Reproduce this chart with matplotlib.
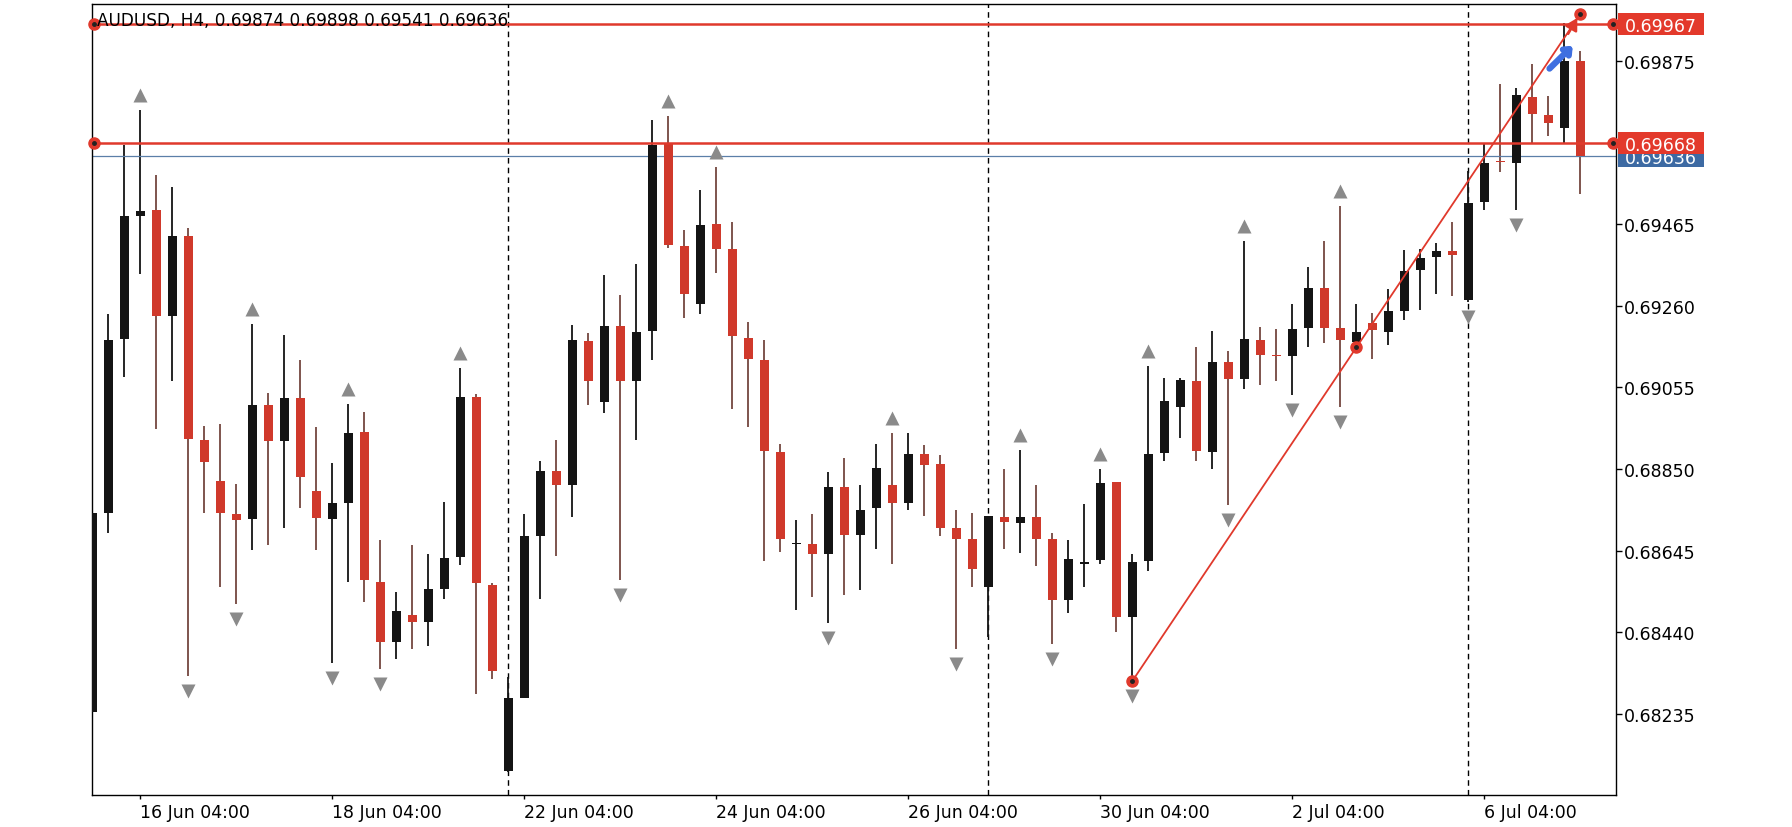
import matplotlib
matplotlib.use("Agg")
import matplotlib.pyplot as plt
from matplotlib.patches import Rectangle
from matplotlib.transforms import blended_transform_factory, offset_copy
import pandas as pd

# AUDUSD H4, 15 Jun 2020 16:00 onwards
title_text = "AUDUSD, H4, 0.69874 0.69898 0.69541 0.69636"

opens = [0.68241, 0.68739, 0.69177, 0.69486, 0.69500, 0.69234, 0.69435, 0.68922, 0.68819, 0.68736,
         0.68724, 0.69011, 0.68920, 0.69029, 0.68796, 0.68724, 0.68766, 0.68944, 0.68567, 0.68416,
         0.68484, 0.68465, 0.68550, 0.68630, 0.69030, 0.68559, 0.68093, 0.68275, 0.68683, 0.68846,
         0.68811, 0.69171, 0.69017, 0.69210, 0.69072, 0.69196, 0.69666, 0.69409, 0.69263, 0.69465,
         0.69402, 0.69180, 0.69124, 0.68894, 0.68662, 0.68663, 0.68636, 0.68805, 0.68685, 0.68751,
         0.68811, 0.68764, 0.68887, 0.68863, 0.68701, 0.68674, 0.68553, 0.68730, 0.68715, 0.68730,
         0.68674, 0.68521, 0.68612, 0.68622, 0.68817, 0.68478, 0.68618, 0.68890, 0.69006, 0.69072,
         0.68894, 0.69119, 0.69077, 0.69173, 0.69135, 0.69133, 0.69204, 0.69305, 0.69204, 0.69169,
         0.69217, 0.69195, 0.69246, 0.69349, 0.69383, 0.69396, 0.69274, 0.69520, 0.69623, 0.69618,
         0.69783, 0.69739, 0.69707, 0.69874]
highs = [0.68745, 0.69240, 0.69662, 0.69752, 0.69589, 0.69557, 0.69455, 0.68958, 0.68964, 0.68813,
         0.69214, 0.69042, 0.69186, 0.69124, 0.68955, 0.68864, 0.69012, 0.68993, 0.68671, 0.68541,
         0.68659, 0.68636, 0.68768, 0.69103, 0.69038, 0.68565, 0.68328, 0.68736, 0.68869, 0.68922,
         0.69212, 0.69192, 0.69337, 0.69287, 0.69364, 0.69727, 0.69735, 0.69450, 0.69551, 0.69607,
         0.69471, 0.69218, 0.69174, 0.68914, 0.68722, 0.68736, 0.68842, 0.68878, 0.68811, 0.68914,
         0.68941, 0.68941, 0.68910, 0.68884, 0.68748, 0.68740, 0.68733, 0.68851, 0.68899, 0.68811,
         0.68689, 0.68671, 0.68762, 0.68849, 0.68817, 0.68636, 0.69109, 0.69079, 0.69079, 0.69157,
         0.69196, 0.69145, 0.69423, 0.69206, 0.69202, 0.69263, 0.69358, 0.69423, 0.69511, 0.69264,
         0.69242, 0.69303, 0.69400, 0.69402, 0.69418, 0.69469, 0.69597, 0.69669, 0.69815, 0.69806,
         0.69866, 0.69787, 0.69969, 0.69898]
lows = [0.68236, 0.68689, 0.69082, 0.69340, 0.68950, 0.69070, 0.68330, 0.68740, 0.68555, 0.68511,
        0.68648, 0.68659, 0.68701, 0.68752, 0.68648, 0.68363, 0.68567, 0.68517, 0.68349, 0.68373,
        0.68399, 0.68405, 0.68523, 0.68610, 0.68286, 0.68322, 0.68089, 0.68275, 0.68523, 0.68632,
        0.68730, 0.69011, 0.68991, 0.68571, 0.68922, 0.69124, 0.69405, 0.69230, 0.69240, 0.69343,
        0.69000, 0.68955, 0.68618, 0.68642, 0.68496, 0.68529, 0.68464, 0.68535, 0.68547, 0.68650,
        0.68612, 0.68746, 0.68733, 0.68681, 0.68399, 0.68553, 0.68429, 0.68650, 0.68639, 0.68606,
        0.68411, 0.68488, 0.68555, 0.68612, 0.68440, 0.68318, 0.68594, 0.68870, 0.68928, 0.68869,
        0.68851, 0.68760, 0.69050, 0.69060, 0.69070, 0.69036, 0.69157, 0.69166, 0.69005, 0.69159,
        0.69127, 0.69162, 0.69223, 0.69249, 0.69290, 0.69283, 0.69268, 0.69499, 0.69595, 0.69499,
        0.69665, 0.69687, 0.69669, 0.69541]
closes = [0.68740, 0.69174, 0.69485, 0.69498, 0.69234, 0.69435, 0.68926, 0.68867, 0.68739, 0.68723,
          0.69011, 0.68920, 0.69029, 0.68831, 0.68727, 0.68766, 0.68941, 0.68571, 0.68416, 0.68494,
          0.68465, 0.68550, 0.68627, 0.69030, 0.68565, 0.68342, 0.68275, 0.68683, 0.68846, 0.68811,
          0.69174, 0.69070, 0.69208, 0.69072, 0.69195, 0.69662, 0.69411, 0.69289, 0.69462, 0.69401,
          0.69183, 0.69125, 0.68896, 0.68674, 0.68664, 0.68638, 0.68804, 0.68685, 0.68748, 0.68852,
          0.68764, 0.68887, 0.68861, 0.68703, 0.68674, 0.68598, 0.68733, 0.68716, 0.68730, 0.68674,
          0.68521, 0.68624, 0.68617, 0.68816, 0.68478, 0.68616, 0.68888, 0.69021, 0.69074, 0.68896,
          0.69119, 0.69077, 0.69177, 0.69137, 0.69133, 0.69201, 0.69305, 0.69204, 0.69175, 0.69195,
          0.69198, 0.69246, 0.69347, 0.69379, 0.69396, 0.69387, 0.69518, 0.69618, 0.69620, 0.69789,
          0.69742, 0.69719, 0.69874, 0.69636]

# fractal markers (bar index)
fractal_up = [3, 10, 16, 23, 36, 39, 50, 58, 63, 66, 72, 78]
fractal_down = [6, 9, 15, 18, 33, 46, 54, 60, 65, 71, 75, 78, 86, 89]

# objects on the chart
level_lines = [0.69967, 0.69668]
bid_price = 0.69636
trend_start = (65, 0.68318)
trend_end = (93, 0.69992)
blue_arrow_from = (90.95, 0.69850)
blue_arrow_to = (92.65, 0.69917)
red_arrow_from = (92.15, 0.69936)
red_arrow_to = (92.9, 0.69988)

y_ticks = [0.68235, 0.68440, 0.68645, 0.68850, 0.69055, 0.69260, 0.69465, 0.69875]
label_bars = [3, 15, 27, 39, 51, 63, 75, 87]

times = pd.date_range("2020-06-15 16:00", periods=200, freq="4h")
times = times[times.dayofweek < 5][:len(opens)]
week_starts = [i for i, t in enumerate(times) if t.dayofweek == 0 and t.hour == 0]

RED = "#d0392b"
BLACK = "#141414"
RED_WICK = "#74463f"
LINE_RED = "#e0392c"
TAG_BLUE = "#3d6aa3"

W, H = 1792, 828
fig = plt.figure(figsize=(W / 100, H / 100), dpi=100)
ax = fig.add_axes([92 / W, 1 - 796 / H, (1616 - 92) / W, (796 - 5) / H])
ylo, yhi = 0.68032, 0.70017
ax.set_xlim(-0.02, 95.23)
ax.set_ylim(ylo, yhi)
px = (yhi - ylo) / 791.0  # price per pixel

# candles
for i in range(len(opens)):
    o, h, l, c = opens[i], highs[i], lows[i], closes[i]
    up = c >= o
    ax.vlines(i, l, h, color=BLACK if up else RED_WICK, lw=1.3, zorder=2)
    ax.bar(i, max(abs(c - o), 1.3 * px), bottom=min(o, c), width=0.55,
           color=BLACK if up else RED, zorder=3)

# fractals
up_tr = offset_copy(ax.transData, fig=fig, y=10.8, units="points")
dn_tr = offset_copy(ax.transData, fig=fig, y=-10.8, units="points")
ax.plot(fractal_up, [highs[i] for i in fractal_up], "^", color="#8a8a8a", ms=10.5,
        mec="none", transform=up_tr, zorder=4)
ax.plot(fractal_down, [lows[i] for i in fractal_down], "v", color="#8a8a8a", ms=10.5,
        mec="none", transform=dn_tr, zorder=4)

# week separators
for b in week_starts:
    ax.axvline(b, color="black", lw=1.0, ls=(0, (4, 3)), zorder=1)

yx = blended_transform_factory(ax.transAxes, ax.transData)


def handle(x, y, transform):
    ax.plot([x], [y], "o", ms=8, color=LINE_RED, mec=LINE_RED, transform=transform,
            clip_on=False, zorder=6)
    ax.plot([x], [y], "o", ms=2.5, color="#222222", transform=transform,
            clip_on=False, zorder=7)


def price_tag(price, color, z):
    ax.add_patch(Rectangle((1.0013, price - 11 * px), 0.0564, 22 * px, transform=yx,
                           facecolor=color, edgecolor="none", clip_on=False, zorder=z))
    ax.text(1.0295, price, f"{price:.5f}", transform=yx, ha="center", va="center_baseline",
            color="white", fontsize=12.5, clip_on=False, zorder=z + 1)


# bid line
ax.axhline(bid_price, color="#5b7fa8", lw=0.9, zorder=2)
price_tag(bid_price, TAG_BLUE, 8)

# horizontal levels
for lv in level_lines:
    ax.axhline(lv, color=LINE_RED, lw=1.8, zorder=5)
    handle(0.0012, lv, yx)
    handle(0.9978, lv, yx)
    price_tag(lv, "#e3392b", 10)

# trend line with handles
mid = ((trend_start[0] + trend_end[0]) / 2, (trend_start[1] + trend_end[1]) / 2)
ax.plot([trend_start[0], trend_end[0]], [trend_start[1], trend_end[1]], color=LINE_RED,
        lw=1.3, zorder=5)
for p in (trend_start, mid, trend_end):
    handle(p[0], p[1], ax.transData)

ax.annotate("", xy=red_arrow_to, xytext=red_arrow_from,
            arrowprops=dict(arrowstyle="-|>,head_length=0.7,head_width=0.4", color=LINE_RED,
                            lw=1.8), zorder=8)
ax.annotate("", xy=blue_arrow_to, xytext=blue_arrow_from,
            arrowprops=dict(arrowstyle="->,head_length=0.35,head_width=0.3", color="#3f6fe0",
                            lw=4.5), zorder=8)

# title
ax.text(0.0033, 0.974, title_text, transform=ax.transAxes, fontsize=12.2, color="black",
        va="baseline", ha="left", zorder=9)

# axes styling
for s in ax.spines.values():
    s.set_color("black")
    s.set_linewidth(1.0)
ax.yaxis.tick_right()
ax.set_yticks(y_ticks)
ax.set_yticklabels([f"{v:.5f}" for v in y_ticks])
ax.set_xticks(label_bars)
ax.set_xticklabels([f"{times[b].day} {times[b]:%b %H:%M}" for b in label_bars], ha="left")
ax.tick_params(axis="y", length=4, width=1, pad=1.5, labelsize=12.5, direction="out")
ax.tick_params(axis="x", length=3, width=1, pad=2.5, labelsize=12.5, direction="out")

fig.savefig("out.png", dpi=100)
